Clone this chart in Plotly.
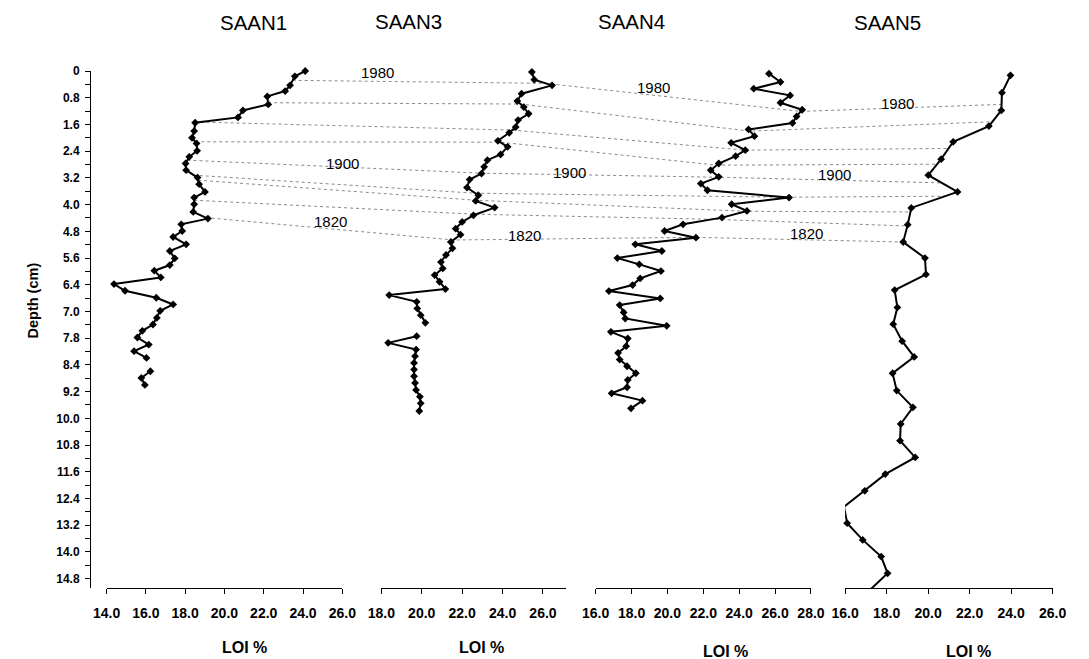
import numpy as np
import plotly.graph_objects as go

# ---------------- data ----------------
CORES = ["SAAN1", "SAAN3", "SAAN4", "SAAN5"]

SAAN1_DEPTH = [0.00, 0.16, 0.43, 0.60, 0.76, 1.00, 1.18, 1.39, 1.55, 1.80, 2.00, 2.17, 2.39, 2.57,
               2.77, 2.97, 3.19, 3.39, 3.62, 3.79, 3.99, 4.22, 4.42, 4.59, 4.79, 4.97, 5.19, 5.39,
               5.61, 5.81, 5.98, 6.18, 6.38, 6.58, 6.79, 6.99, 7.18, 7.39, 7.59, 7.78, 7.98, 8.19,
               8.39, 8.59, 8.79, 8.99, 9.19, 9.40]
SAAN1_LOI = [24.11, 23.58, 23.34, 23.09, 22.18, 22.23, 20.94, 20.69, 18.51, 18.46, 18.35, 18.58, 18.61, 18.21,
             18.02, 18.05, 18.63, 18.71, 19.01, 18.46, 18.46, 18.41, 19.16, 17.80, 17.85, 17.39, 18.05, 17.22,
             17.47, 17.22, 16.43, 16.76, 14.38, 14.94, 16.53, 17.39, 16.73, 16.56, 16.36, 15.82, 15.57, 16.15,
             15.40, 16.03, None, 16.23, 15.77, 15.95]

SAAN3_DEPTH = [0.03, 0.26, 0.43, 0.68, 0.90, 1.08, 1.28, 1.47, 1.68, 1.85, 2.09, 2.27, 2.50, 2.67,
               2.87, 3.07, 3.25, 3.49, 3.72, 3.89, 4.09, 4.32, 4.52, 4.72, 4.90, 5.12, 5.31, 5.51,
               5.72, 5.91, 6.11, 6.31, 6.53, 6.71, 6.91, 7.11, 7.31, 7.54, 7.74, 7.94, 8.14, 8.34,
               8.54, 8.74, 8.94, 9.14, 9.34, 9.55, 9.75, 9.95, 10.18]
SAAN3_LOI = [25.45, 25.57, 26.45, 24.94, 24.73, 25.05, 25.29, 24.77, 24.65, 24.33, 23.77, 24.25, 23.90, 23.25,
             23.09, 22.96, 22.37, 22.24, 22.80, 22.67, 23.61, 22.56, 22.00, 21.68, 21.92, 21.44, 21.52, 21.20,
             20.95, 21.04, 20.64, 20.88, 21.17, 18.39, 19.75, 19.78, 19.95, 20.18, None, 19.75, 18.34, 19.72,
             19.67, 19.62, 19.62, 19.62, 19.67, 19.72, 19.91, 19.95, 19.88]

SAAN4_DEPTH = [0.08, 0.33, 0.53, 0.73, 0.95, 1.16, 1.36, 1.56, 1.75, 1.95, 2.15, 2.37, 2.55, 2.77,
               2.97, 3.17, 3.37, 3.57, 3.79, 3.99, 4.19, 4.39, 4.59, 4.79, 4.99, 5.19, 5.39, 5.60,
               5.79, 5.99, 6.21, 6.41, 6.59, 6.81, 7.01, 7.23, 7.41, 7.63, 7.81, 8.01, 8.24, 8.44,
               8.64, 8.84, 9.05, 9.25, 9.47, 9.65, 9.87, 10.10]
SAAN4_LOI = [25.66, 26.30, 24.81, 26.84, 26.30, 27.51, 27.20, 26.97, 24.52, 24.85, 23.55, 24.34, 23.80, 22.86,
             22.41, 22.86, 21.86, 22.23, 26.78, 23.58, 24.43, 23.04, 20.87, 19.84, 21.59, 18.21, 19.69, 17.21,
             18.43, 19.64, 18.48, 18.06, 16.74, 19.60, 17.34, 17.56, 17.65, 19.96, 16.85, 17.79, 17.70, 17.25,
             17.34, 17.75, 18.24, 17.79, 17.75, 16.89, 18.61, 17.97]

SAAN5_DEPTH = [0.13, 0.65, 1.18, 1.65, 2.12, 2.64, 3.12, 3.62, 4.10, 4.60, 5.12, 5.60, 6.09, 6.56,
               7.08, 7.58, 8.09, 8.56, 9.05, 9.57, 10.07, 10.57, 11.07, 11.57, 12.07, 12.57, 13.05, 13.54,
               14.04, 14.54, 15.04, 15.52]
SAAN5_LOI = [23.97, 23.56, 23.53, 22.93, 21.21, 20.63, 20.01, 21.42, 19.19, 19.02, 18.80, 19.85, 19.90, 18.39,
             18.52, 18.32, 18.75, 19.33, 18.29, 18.49, 19.27, 18.68, 18.65, 19.38, 17.94, 16.95, 15.95, 16.10,
             16.85, 17.74, 18.05, 17.23]

# depth of each correlated horizon in each core (top to bottom)
SAAN1_HORIZONS = [0.28, 0.95, 1.53, 2.12, 2.67, 3.12, 3.27, 3.87, 4.39]
SAAN3_HORIZONS = [0.37, 0.99, 1.77, 2.13, 3.06, 3.66, 3.87, 4.29, 5.06]
SAAN4_HORIZONS = [1.21, 1.80, 2.37, 2.82, 3.18, 3.78, 4.20, 4.44, 4.98]
SAAN5_HORIZONS = [1.00, 1.52, 2.32, 2.79, 3.35, 3.75, 4.22, 4.64, 5.12]

YEAR_LABELS = ["1980", "1900", "1820"]

DEPTH_TICK_LABELS = ["0", "0.8", "1.6", "2.4", "3.2", "4.0", "4.8", "5.6", "6.4", "7.0",
                     "7.8", "8.4", "9.2", "10.0", "10.8", "11.6", "12.4", "13.2", "14.0", "14.8"]

# ---------------- layout geometry ----------------
W, H = 1089, 659
PLOT_TOP, PLOT_BOTTOM = 71, 588
DEPTH_RANGE = [15.48, 0]
Y_AXIS_X = 78
FONT = "Liberation Sans, Arial, sans-serif"

# (left px, right px, LOI min, LOI max) for each core panel
PANELS = [(95, 337, 14, 26), (377, 567, 18, 27.16), (597, 818, 16, 28), (853, 1066, 16, 26)]
TITLE_POS = [(246, 22), (405, 21), (634, 21), (897, 22)]
XTITLE_POS = [(237, 647), (480, 647), (730, 651), (980, 651)]
YEAR_POS = [[(373, 73), (656, 88), (907, 103)],
            [(337, 163), (570, 172), (842, 174)],
            [(325, 222), (524, 235), (813, 233)]]


def paper_x(px):
    return px / W


def paper_y(py):
    return (PLOT_BOTTOM - py) / (PLOT_BOTTOM - PLOT_TOP)


def loi_to_px(panel, loi):
    left, right, lo, hi = PANELS[panel]
    return left + (loi - lo) / (hi - lo) * (right - left)


series = [(SAAN1_DEPTH, SAAN1_LOI), (SAAN3_DEPTH, SAAN3_LOI),
          (SAAN4_DEPTH, SAAN4_LOI), (SAAN5_DEPTH, SAAN5_LOI)]
horizons = [SAAN1_HORIZONS, SAAN3_HORIZONS, SAAN4_HORIZONS, SAAN5_HORIZONS]

fig = go.Figure()

# dotted tie-lines joining the same horizon from core to core (drawn on a pixel-scaled overlay axis)
tie_x, tie_y = [], []
for h in range(len(SAAN1_HORIZONS)):
    for i, (dep, loi) in enumerate(series):
        valid = [(d, v) for d, v in zip(dep, loi) if v is not None]
        d_arr = np.array([p[0] for p in valid])
        v_arr = np.array([p[1] for p in valid])
        hd = horizons[i][h]
        tie_x.append(loi_to_px(i, float(np.interp(hd, d_arr, v_arr))))
        tie_y.append(hd)
    tie_x.append(None)
    tie_y.append(None)

fig.add_trace(go.Scatter(x=tie_x, y=tie_y, xaxis="x", yaxis="y", mode="lines",
                         line=dict(color="#8a8a8a", width=1, dash="dot"),
                         hoverinfo="skip", showlegend=False))

for i, (dep, loi) in enumerate(series):
    fig.add_trace(go.Scatter(
        x=loi, y=dep, xaxis=f"x{i + 2}", yaxis="y", mode="lines+markers",
        line=dict(color="black", width=2),
        marker=dict(symbol="diamond", size=6, color="black"),
        cliponaxis=False, name=CORES[i], showlegend=False))

layout = dict(
    width=W, height=H,
    margin=dict(l=0, r=0, t=PLOT_TOP, b=H - PLOT_BOTTOM, pad=0),
    paper_bgcolor="white", plot_bgcolor="rgba(0,0,0,0)",
    font=dict(family=FONT, color="black"),
    showlegend=False,
    xaxis=dict(domain=[0, 1], range=[0, W], visible=False, fixedrange=True),
    yaxis=dict(
        range=DEPTH_RANGE, anchor="free", position=paper_x(Y_AXIS_X),
        showline=True, linecolor="black", linewidth=1,
        ticks="outside", ticklen=5, tickcolor="black", tickwidth=1,
        tickvals=[0.8 * k for k in range(len(DEPTH_TICK_LABELS))],
        ticktext=DEPTH_TICK_LABELS,
        tickfont=dict(size=12, family=FONT, weight="bold"),
        ticklabelstandoff=3,
        minor=dict(tickvals=[0.4 + 0.8 * k for k in range(len(DEPTH_TICK_LABELS) - 1)],
                   ticks="outside", ticklen=5, tickcolor="black", tickwidth=1),
        showgrid=False, zeroline=False,
    ),
)

for i, (left, right, lo, hi) in enumerate(PANELS):
    layout[f"xaxis{i + 2}"] = dict(
        domain=[paper_x(left), paper_x(right)], range=[lo, hi], anchor="y",
        showline=True, linecolor="black", linewidth=1,
        ticks="outside", ticklen=5, tickcolor="black", tickwidth=1,
        tick0=lo, dtick=2, tickformat=".1f",
        tickfont=dict(size=14, family=FONT, weight="bold"),
        ticklabelstandoff=7,
        showgrid=False, zeroline=False,
    )

annotations = []
for name, (px, py) in zip(CORES, TITLE_POS):
    annotations.append(dict(text=name, x=paper_x(px), y=paper_y(py), xref="paper", yref="paper",
                            xanchor="center", yanchor="middle", showarrow=False,
                            font=dict(size=20.5, family=FONT)))
for px, py in XTITLE_POS:
    annotations.append(dict(text="LOI %", x=paper_x(px), y=paper_y(py), xref="paper", yref="paper",
                            xanchor="center", yanchor="middle", showarrow=False,
                            font=dict(size=16, family=FONT, weight="bold")))
for label, positions in zip(YEAR_LABELS, YEAR_POS):
    for px, py in positions:
        annotations.append(dict(text=label, x=paper_x(px), y=paper_y(py), xref="paper", yref="paper",
                                xanchor="center", yanchor="middle", showarrow=False,
                                font=dict(size=15, family=FONT)))
annotations.append(dict(text="Depth (cm)", x=paper_x(20), y=paper_y(300), xref="paper", yref="paper",
                        xanchor="center", yanchor="middle", textangle=-90, showarrow=False,
                        font=dict(size=14.5, family=FONT, weight="bold")))
layout["annotations"] = annotations

fig.update_layout(**layout)
fig.write_html("out.html")
